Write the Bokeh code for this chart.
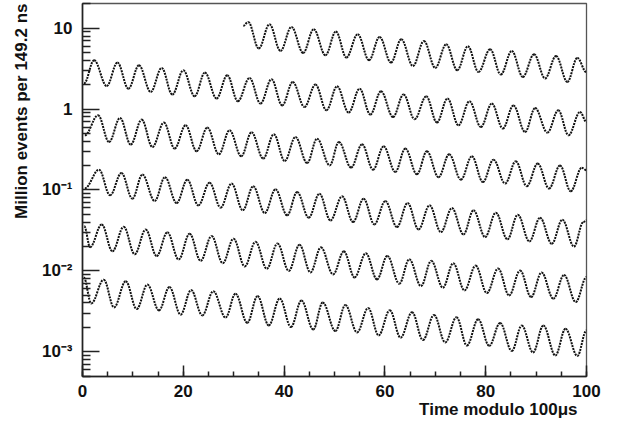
import math
from bokeh.plotting import figure
from bokeh.models import Range1d, FixedTicker, Title
from bokeh.embed import file_html
from bokeh.resources import INLINE

# ---------------- data ----------------
# time modulo 100 us (x) and million events per 149.2 ns (y), one row per 100 us
r1_start = (31.9, 10.7)
r1_peak_t = [32.88, 37.10, 41.46, 45.88, 50.28, 54.60, 58.95, 63.25, 67.75, 72.17, 76.47, 80.88, 85.18, 89.60, 93.96, 98.18]
r1_peak_v = [11.97, 11.2, 10.38, 9.72, 9.10, 8.43, 7.80, 7.31, 6.96, 6.34, 5.98, 5.50, 5.24, 4.77, 4.54, 4.29]
r1_trough_t = [34.98, 39.28, 43.78, 48.20, 52.36, 56.85, 61.21, 65.57, 69.99, 74.35, 78.57, 83.00, 87.36, 91.78, 96.20]
r1_trough_v = [5.61, 5.24, 4.95, 4.63, 4.34, 4.02, 3.76, 3.41, 3.23, 3.02, 2.88, 2.67, 2.50, 2.39, 2.17]
r1_end = (100.0, 2.85)

r2_start = (0.3, 2.07)
r2_peak_t = [2.30, 6.93, 11.21, 15.71, 20.01, 24.29, 28.72, 33.14, 37.50, 41.72, 46.22, 50.51, 54.99, 59.23, 63.71, 68.21, 72.42, 76.78, 81.22, 85.50, 89.80, 94.41, 98.72]
r2_peak_v = [4.02, 3.76, 3.48, 3.23, 3.02, 2.83, 2.62, 2.43, 2.34, 2.16, 2.01, 1.91, 1.79, 1.66, 1.52, 1.44, 1.35, 1.25, 1.17, 1.11, 1.03, 0.967, 0.921]
r2_trough_t = [4.81, 9.11, 13.53, 17.83, 22.25, 26.60, 30.82, 35.32, 39.62, 44.04, 48.40, 52.81, 57.11, 61.61, 65.89, 70.32, 74.60, 79.04, 83.40, 87.82, 92.24, 96.43]
r2_trough_v = [1.93, 1.79, 1.63, 1.51, 1.44, 1.35, 1.25, 1.17, 1.11, 1.06, 0.967, 0.905, 0.855, 0.798, 0.748, 0.681, 0.631, 0.600, 0.574, 0.521, 0.512, 0.474]
r2_end = (100.0, 0.692)

r3_start = (0.46, 0.474)
r3_peak_t = [3.09, 7.45, 11.75, 16.16, 20.46, 24.76, 29.18, 33.54, 37.96, 42.25, 46.55, 50.87, 55.47, 59.75, 64.05, 68.34, 72.76, 77.26, 81.54, 85.97, 90.33, 94.75, 99.05]
r3_peak_v = [0.838, 0.776, 0.741, 0.681, 0.631, 0.590, 0.547, 0.517, 0.488, 0.452, 0.431, 0.392, 0.367, 0.346, 0.325, 0.301, 0.276, 0.261, 0.237, 0.226, 0.212, 0.201, 0.188]
r3_trough_t = [5.27, 9.57, 13.87, 18.28, 22.64, 27.06, 31.50, 35.86, 40.13, 44.57, 49.05, 53.29, 57.65, 62.06, 66.36, 70.64, 75.08, 79.44, 83.86, 88.15, 92.57, 96.87]
r3_trough_v = [0.392, 0.364, 0.340, 0.325, 0.301, 0.276, 0.261, 0.244, 0.228, 0.215, 0.201, 0.189, 0.178, 0.167, 0.156, 0.144, 0.134, 0.125, 0.120, 0.111, 0.104, 0.0961]
r3_end = (100.0, 0.175)

r4_start = (0.46, 0.105)
r4_peak_t = [3.29, 7.73, 11.89, 16.36, 20.80, 25.22, 29.58, 33.87, 38.29, 42.59, 47.01, 51.51, 55.78, 60.08, 64.50, 68.86, 73.30, 77.58, 82.01, 86.37, 90.79, 95.21, 99.37]
r4_peak_v = [0.178, 0.162, 0.155, 0.144, 0.134, 0.123, 0.120, 0.111, 0.1017, 0.0942, 0.0900, 0.0834, 0.0780, 0.0729, 0.0689, 0.0645, 0.0597, 0.0560, 0.0524, 0.0495, 0.0454, 0.0429, 0.0401]
r4_trough_t = [5.47, 9.90, 14.32, 18.68, 22.98, 27.40, 31.81, 36.17, 40.61, 44.89, 49.19, 53.68, 57.90, 62.40, 66.68, 71.12, 75.59, 79.89, 84.31, 88.67, 93.11, 97.52]
r4_trough_v = [0.0858, 0.0780, 0.0729, 0.0689, 0.0645, 0.0604, 0.0560, 0.0518, 0.0485, 0.0454, 0.0420, 0.0401, 0.0375, 0.0347, 0.0325, 0.0301, 0.0282, 0.0261, 0.0245, 0.0231, 0.0216, 0.0200]
r4_end = (100.0, 0.042)

r5_start = (0.36, 0.0355)
r5_peak_t = [3.82, 8.18, 12.54, 16.84, 21.26, 25.62, 29.97, 34.33, 38.69, 43.05, 47.31, 51.86, 56.22, 60.48, 64.84, 69.20, 73.56, 78.01, 82.47, 86.83, 91.09, 95.55]
r5_peak_v = [0.0375, 0.0351, 0.0324, 0.0299, 0.0288, 0.0270, 0.0250, 0.0229, 0.0218, 0.0210, 0.0195, 0.0174, 0.0165, 0.0153, 0.0139, 0.0133, 0.0124, 0.0116, 0.0107, 0.0101, 0.00955, 0.00889]
r5_trough_t = [1.51, 5.94, 10.36, 14.72, 19.08, 23.44, 27.83, 32.19, 36.57, 40.93, 45.23, 49.72, 53.98, 58.44, 62.86, 67.16, 71.51, 75.79, 80.23, 84.65, 89.01, 93.42, 97.86]
r5_trough_v = [0.0196, 0.0174, 0.0160, 0.0152, 0.0138, 0.0133, 0.0124, 0.0113, 0.0106, 0.00997, 0.00955, 0.00902, 0.00828, 0.00783, 0.00692, 0.00647, 0.00618, 0.00572, 0.00530, 0.00496, 0.00473, 0.00452, 0.00410]
r5_end = (100.0, 0.00836)

r6_start = (0.26, 0.00828)
r6_peak_t = [4.22, 8.58, 12.88, 17.25, 21.55, 25.95, 30.36, 34.73, 39.14, 43.44, 47.66, 52.16, 56.68, 60.97, 65.39, 69.75, 74.21, 78.51, 82.86, 87.16, 91.44, 95.84]
r6_peak_v = [0.00778, 0.00743, 0.00675, 0.00629, 0.00577, 0.00559, 0.00521, 0.00487, 0.00455, 0.00430, 0.00406, 0.00378, 0.00347, 0.00326, 0.00308, 0.00285, 0.00267, 0.00252, 0.00227, 0.00211, 0.00211, 0.00192]
r6_trough_t = [1.74, 6.26, 10.76, 15.17, 19.47, 23.77, 28.39, 32.69, 36.96, 41.36, 45.78, 50.18, 54.48, 58.76, 63.11, 67.55, 71.97, 76.27, 80.69, 85.18, 89.40, 93.82, 98.18]
r6_trough_v = [0.00395, 0.00353, 0.00336, 0.00324, 0.00287, 0.00281, 0.00264, 0.00227, 0.00211, 0.00202, 0.00188, 0.00180, 0.00173, 0.00159, 0.00149, 0.00139, 0.00130, 0.00119, 0.00118, 0.00102, 0.000977, 0.000897, 0.000885]
r6_end = (100.0, 0.00183)

rows = [
    (r1_start, r1_peak_t, r1_peak_v, r1_trough_t, r1_trough_v, r1_end),
    (r2_start, r2_peak_t, r2_peak_v, r2_trough_t, r2_trough_v, r2_end),
    (r3_start, r3_peak_t, r3_peak_v, r3_trough_t, r3_trough_v, r3_end),
    (r4_start, r4_peak_t, r4_peak_v, r4_trough_t, r4_trough_v, r4_end),
    (r5_start, r5_peak_t, r5_peak_v, r5_trough_t, r5_trough_v, r5_end),
    (r6_start, r6_peak_t, r6_peak_v, r6_trough_t, r6_trough_v, r6_end),
]

x_ticks = [0, 20, 40, 60, 80, 100]
y_ticks = [0.001, 0.01, 0.1, 1, 10]
y_tick_labels = ["10\u207b\u00b3", "10\u207b\u00b2", "10\u207b\u00b9", "1", "10"]
x_title = "Time modulo 100\u03bcs"
y_title = "Million events per 149.2 ns"

# ---------------- figure ----------------
FONT = "Liberation Sans"
y_lo = 10 ** -3.307
y_hi = 10 ** 1.3057

p = figure(width=620, height=418, x_axis_type="linear", y_axis_type="log",
           x_range=Range1d(0, 100), y_range=Range1d(y_lo, y_hi),
           output_backend="svg", toolbar_location=None,
           min_border_left=82, min_border_right=34, min_border_top=3, min_border_bottom=42)
p.grid.visible = False
p.background_fill_color = "white"
p.border_fill_color = "white"
p.outline_line_color = "#555555"
p.outline_line_width = 1.3

k = 0.3642
for (st, pt, pv, tt, tv, en) in rows:
    pts = sorted(list(zip(pt, pv)) + list(zip(tt, tv)))
    pts = [st] + pts + [en]
    x0 = [a[0] for a in pts[:-1]]
    y0 = [a[1] for a in pts[:-1]]
    x1 = [a[0] for a in pts[1:]]
    y1 = [a[1] for a in pts[1:]]
    cx0 = [a + k * (b - a) for a, b in zip(x0, x1)]
    cx1 = [b - k * (b - a) for a, b in zip(x0, x1)]
    p.bezier(x0=x0, y0=y0, x1=x1, y1=y1, cx0=cx0, cy0=y0, cx1=cx1, cy1=y1,
             line_color="#111111", line_width=2.0, line_dash="2 1")

# axes
xminor = [v for v in range(0, 101, 5)]
p.xaxis.ticker = FixedTicker(ticks=x_ticks, minor_ticks=xminor)
yminor = []
for e in range(-4, 2):
    for m in range(2, 10):
        yminor.append(m * 10.0 ** e)
p.yaxis.ticker = FixedTicker(ticks=y_ticks, minor_ticks=yminor)
p.yaxis.major_label_overrides = {v: s for v, s in zip(y_ticks, y_tick_labels)}

for ax in (p.xaxis[0], p.yaxis[0]):
    ax.axis_line_color = "#222222"
    ax.axis_line_width = 1.6
    ax.major_tick_line_color = "#222222"
    ax.minor_tick_line_color = "#222222"
    ax.major_tick_line_width = 1.5
    ax.minor_tick_line_width = 1.5
    ax.major_tick_out = 0
    ax.minor_tick_out = 0
    ax.major_label_text_font = FONT
    ax.major_label_text_font_style = "bold"
    ax.major_label_text_font_size = "17px"
    ax.major_label_text_color = "#111111"

p.xaxis.major_tick_in = 11
p.xaxis.minor_tick_in = 5
p.xaxis.major_label_standoff = 8
p.yaxis.major_tick_in = 17
p.yaxis.minor_tick_in = 8
p.yaxis.major_label_standoff = 10

p.add_layout(Title(text=x_title, align="right", offset=9, standoff=-4,
                   text_font=FONT, text_font_style="bold", text_font_size="17px",
                   text_color="#111111"), "below")
p.add_layout(Title(text=y_title, align="right", offset=0, standoff=16,
                   text_font=FONT, text_font_style="bold", text_font_size="17px",
                   text_color="#111111"), "left")

open("out.html", "w").write(file_html(p, INLINE))
